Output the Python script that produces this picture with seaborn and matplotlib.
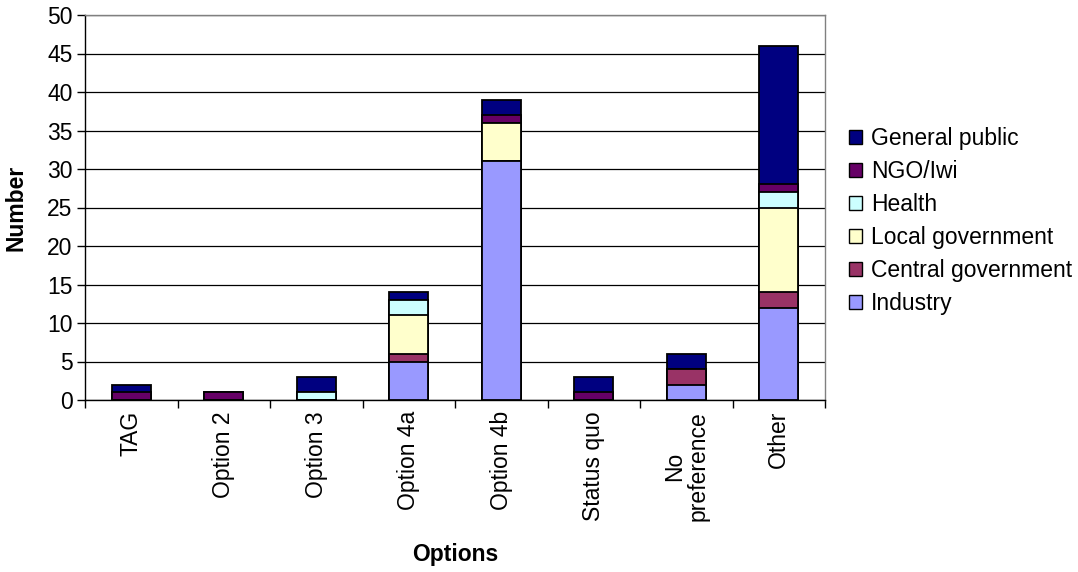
import numpy as np
import pandas as pd
import matplotlib
matplotlib.use("Agg")
import matplotlib.pyplot as plt
from matplotlib.patches import Patch
from matplotlib.ticker import MultipleLocator, FixedLocator
import seaborn as sns

categories = ["TAG", "Option 2", "Option 3", "Option 4a", "Option 4b",
              "Status quo", "No\npreference", "Other"]

industry = [0, 0, 0, 5, 31, 0, 2, 12]
central_government = [0, 0, 0, 1, 0, 0, 2, 2]
local_government = [0, 0, 0, 5, 5, 0, 0, 11]
health = [0, 0, 1, 2, 0, 0, 0, 2]
ngo_iwi = [1, 1, 0, 0, 1, 1, 0, 1]
general_public = [1, 0, 2, 1, 2, 2, 2, 18]

series_names = ["Industry", "Central government", "Local government",
                "Health", "NGO/Iwi", "General public"]
series_values = [industry, central_government, local_government,
                 health, ngo_iwi, general_public]
series_colors = ["#9999FF", "#993366", "#FFFFCC", "#CCFFFF", "#660066", "#000080"]

FS = 16.5

sns.set_theme(style="white", rc={"text.color": "black", "axes.labelcolor": "black",
                                 "xtick.color": "black", "ytick.color": "black"})
plt.rcParams["font.family"] = ["Liberation Sans", "DejaVu Sans"]

fig = plt.figure(figsize=(10.78, 5.72), dpi=100)
ax = fig.add_axes([85 / 1078, 1 - 400 / 572, 740 / 1078, 385 / 572])

# Stacked bars: draw cumulative totals from the tallest layer down
cum = np.cumsum(np.array(series_values), axis=0)
for i in range(len(series_names) - 1, -1, -1):
    df = pd.DataFrame({"Options": categories, "Number": cum[i]})
    sns.barplot(data=df, x="Options", y="Number", ax=ax, color=series_colors[i],
                width=0.42, edgecolor="black", linewidth=1.3, saturation=1,
                zorder=3)

ax.set_ylim(0, 50)
ax.set_xlim(-0.5, len(categories) - 0.5)
ax.yaxis.set_major_locator(MultipleLocator(5))
ax.grid(axis="y", color="black", linewidth=0.9, zorder=0)
ax.set_axisbelow(True)

for side in ["top", "right"]:
    ax.spines[side].set_color("#808080")
    ax.spines[side].set_linewidth(1.0)
for side in ["left", "bottom"]:
    ax.spines[side].set_color("black")
    ax.spines[side].set_linewidth(1.0)
    ax.spines[side].set_visible(True)

ax.tick_params(axis="y", which="major", direction="out", length=6, width=1,
               color="black", labelsize=FS, labelcolor="black", pad=3, left=True)
ax.set_xticks(range(len(categories)))
ax.set_xticklabels(categories, rotation=90, fontsize=FS, linespacing=1.0)
ax.tick_params(axis="x", which="major", length=0, pad=8, labelcolor="black")
ax.xaxis.set_minor_locator(FixedLocator(np.arange(-0.5, len(categories), 1.0)))
ax.tick_params(axis="x", which="minor", direction="out", length=6, width=1,
               color="black", bottom=True)

ax.set_xlabel("Options", fontsize=FS, fontweight="bold", labelpad=16, color="black")
ax.set_ylabel("Number", fontsize=FS, fontweight="bold", labelpad=14, color="black")

handles = [Patch(facecolor=c, edgecolor="black", linewidth=1.0, label=n)
           for n, c in zip(series_names, series_colors)]
handles = handles[::-1]
fig.legend(handles=handles, loc="center left",
           bbox_to_anchor=(840 / 1078, 1 - 221 / 572), frameon=False,
           fontsize=FS, handlelength=0.55, handleheight=0.55,
           handletextpad=0.4, labelspacing=0.44, borderaxespad=0,
           labelcolor="black")

fig.savefig("out.png", dpi=100)
